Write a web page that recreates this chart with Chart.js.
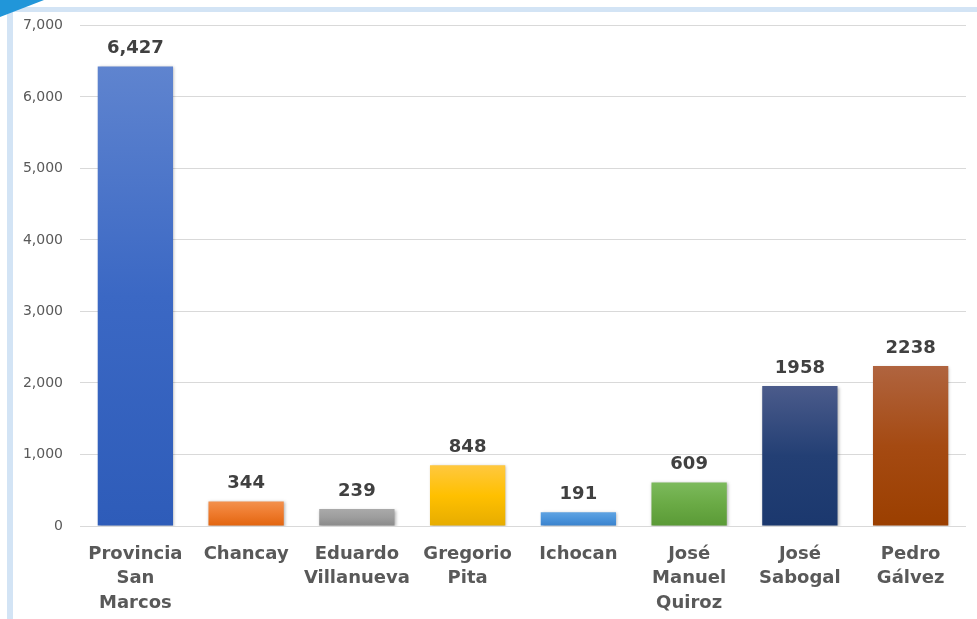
<!DOCTYPE html>
<html>
<head>
<meta charset="utf-8">
<script src="https://cdn.jsdelivr.net/npm/chart.js@4/dist/chart.umd.min.js"></script>
<style>
  html, body { margin: 0; padding: 0; background: #fff; }
  #wrap { width: 977px; height: 619px; position: relative; }
</style>
</head>
<body>
<div id="wrap"><canvas id="chart" width="977" height="619"></canvas></div>
<script>
// data
const categories = [
    ['Provincia', 'San', 'Marcos'],
    ['Chancay'],
    ['Eduardo', 'Villanueva'],
    ['Gregorio', 'Pita'],
    ['Ichocan'],
    ['José', 'Manuel', 'Quiroz'],
    ['José', 'Sabogal'],
    ['Pedro', 'Gálvez'],
];
const values = [6427, 344, 239, 848, 191, 609, 1958, 2238];
const valueLabels = ['6,427', '344', '239', '848', '191', '609', '1958', '2238'];
const yTicks = [0, 1000, 2000, 3000, 4000, 5000, 6000, 7000];

// gradient stops per bar: top, middle, bottom
const barColors = [
    ['#5f84cf', '#3b68c4', '#2e5cb9'],
    ['#f3914e', '#ee7a2c', '#e2650f'],
    ['#aaaaaa', '#9d9d9d', '#8a8a8a'],
    ['#ffc83f', '#ffc000', '#e6ac00'],
    ['#5fa3e2', '#4a93da', '#3a82cc'],
    ['#7cba5c', '#6aaa45', '#5a9a36'],
    ['#4b5b8b', '#233f74', '#1b386e'],
    ['#b0643f', '#a54a12', '#9b3f00'],
];

const frame = {
    id: 'frame',
    beforeDraw(chart) {
        const c = chart.ctx;
        c.save();
        c.fillStyle = '#fff';
        c.fillRect(0, 0, chart.width, chart.height);
        c.fillStyle = '#d3e4f5';
        c.fillRect(7, 7, 6, chart.height - 7);
        c.fillRect(7, 7, chart.width - 7, 5);
        c.fillStyle = '#2196d9';
        c.beginPath();
        c.moveTo(0, 0);
        c.lineTo(44, 0);
        c.lineTo(0, 17);
        c.closePath();
        c.fill();
        c.restore();
    }
};

const barShadow = {
    id: 'barShadow',
    beforeDatasetsDraw(chart) {
        const c = chart.ctx;
        c.save();
        c.shadowColor = 'rgba(0,0,0,0.3)';
        c.shadowBlur = 3;
        c.shadowOffsetX = 1;
        c.shadowOffsetY = 1;
    },
    afterDatasetsDraw(chart) {
        chart.ctx.restore();
    }
};

const valueLabelsPlugin = {
    id: 'valueLabels',
    afterDatasetsDraw(chart) {
        const c = chart.ctx;
        const meta = chart.getDatasetMeta(0);
        c.save();
        c.font = 'bold 18px "DejaVu Sans"';
        c.fillStyle = '#404040';
        c.textAlign = 'center';
        c.textBaseline = 'middle';
        meta.data.forEach((bar, i) => {
            c.fillText(valueLabels[i], bar.x, bar.y - 18);
        });
        c.restore();
    }
};

function barGradient(context) {
    const chart = context.chart;
    if (!chart.chartArea) return barColors[context.dataIndex][1];
    const yScale = chart.scales.y;
    const top = yScale.getPixelForValue(values[context.dataIndex]);
    const base = yScale.getPixelForValue(0);
    const g = chart.ctx.createLinearGradient(0, top, 0, base);
    const cols = barColors[context.dataIndex];
    g.addColorStop(0, cols[0]);
    g.addColorStop(0.5, cols[1]);
    g.addColorStop(1, cols[2]);
    return g;
}

const chart = new Chart(document.getElementById('chart'), {
    type: 'bar',
    data: {
        labels: categories,
        datasets: [{
            data: values,
            backgroundColor: barGradient,
            categoryPercentage: 1,
            barPercentage: 0.68,
        }]
    },
    options: {
        responsive: false,
        animation: false,
        layout: { padding: { left: 0, right: 11, top: 24, bottom: 0 } },
        plugins: {
            legend: { display: false },
            tooltip: { enabled: false }
        },
        scales: {
            x: {
                grid: { display: false },
                border: { display: false },
                ticks: {
                    color: '#595959',
                    font: { family: 'DejaVu Sans', size: 18, weight: 'bold', lineHeight: 1.36 },
                    padding: 8,
                    maxRotation: 0,
                    autoSkip: false
                },
                afterFit(scale) { scale.height = 93; }
            },
            y: {
                min: 0,
                max: 7000,
                afterBuildTicks(scale) { scale.ticks = yTicks.map(v => ({ value: v })); },
                grid: { color: '#d9d9d9', drawTicks: false },
                border: { display: false },
                ticks: {
                    color: '#595959',
                    font: { family: 'DejaVu Sans', size: 14 },
                    padding: 17,
                    callback: v => v.toLocaleString('en-US')
                },
                afterFit(scale) { scale.width = 80; }
            }
        }
    },
    plugins: [frame, barShadow, valueLabelsPlugin]
});
</script>
</body>
</html>
